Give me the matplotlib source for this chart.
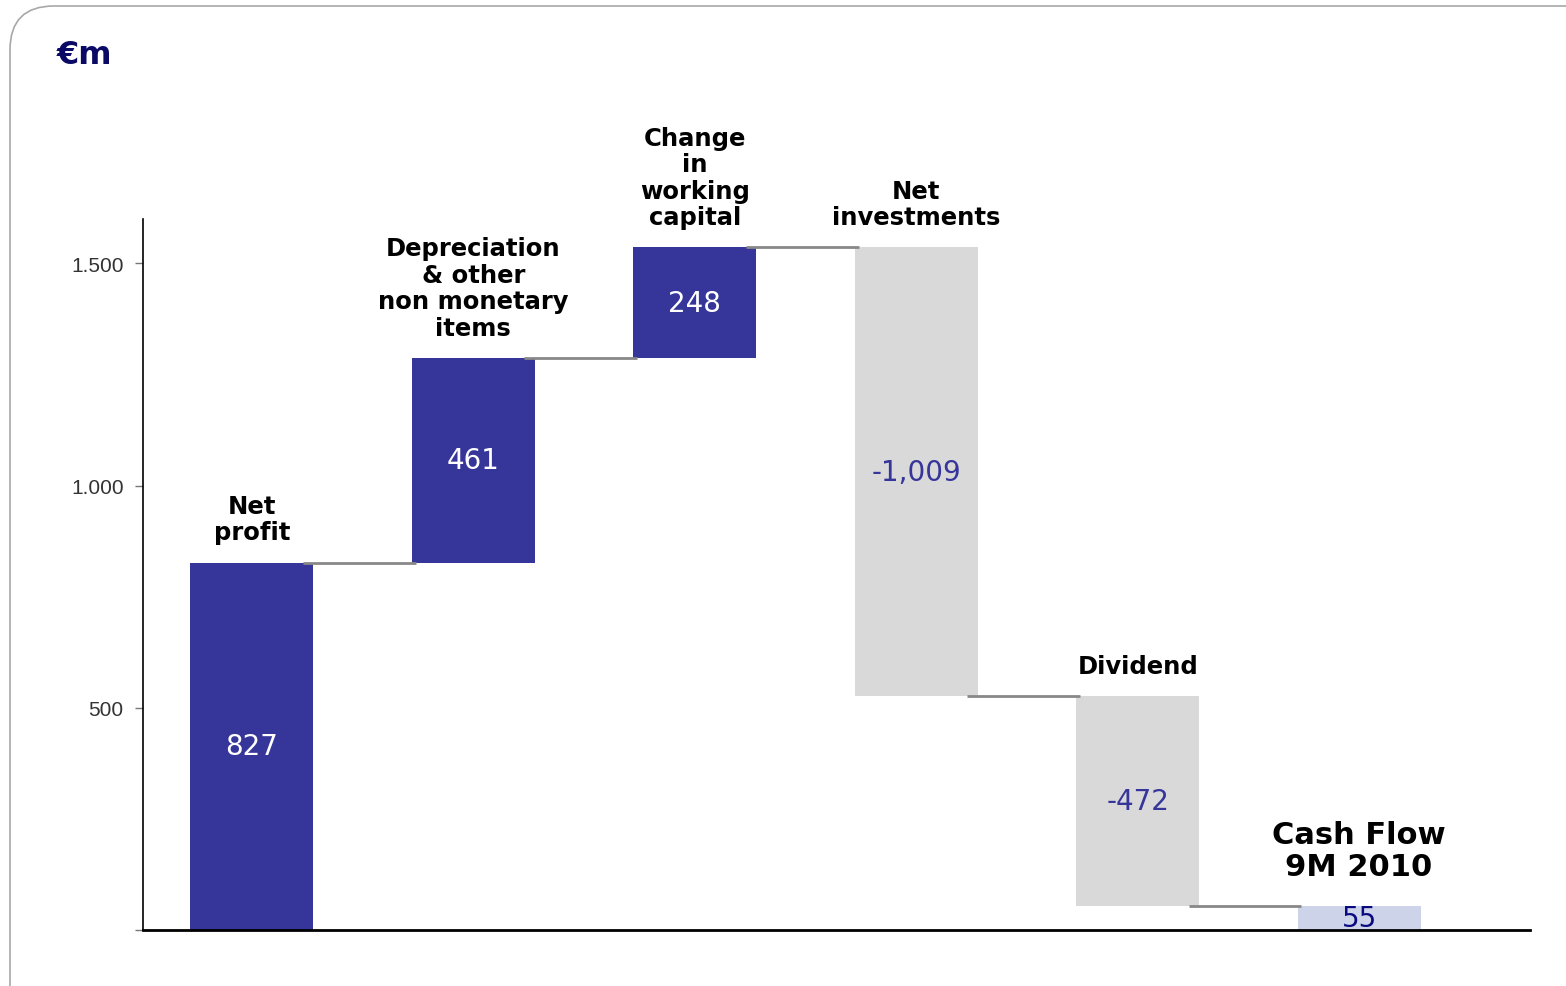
import numpy as np
import matplotlib
matplotlib.use("Agg")
import matplotlib.pyplot as plt
from matplotlib.patches import FancyBboxPatch

# waterfall data (EUR m)
categories = ["Net\nprofit", "Depreciation\n& other\nnon monetary\nitems",
              "Change\nin\nworking\ncapital", "Net\ninvestments", "Dividend",
              "Cash Flow\n9M 2010"]
values = [827, 461, 248, -1009, -472, 55]
value_labels = ["827", "461", "248", "-1,009", "-472", "55"]
yticks = [0, 500, 1000, 1500]
ytick_labels = ["", "500", "1.000", "1.500"]

blue = "#35359a"
grey = "#d9d9d9"
light = "#cdd4ea"

# bottoms / heights, last bar is the total
cum = np.cumsum(values[:-1])
bottoms, heights = [], []
prev = 0
for v, c in zip(values[:-1], cum):
    bottoms.append(min(prev, c))
    heights.append(abs(v))
    prev = c
bottoms.append(0)
heights.append(values[-1])
tops = [b + h for b, h in zip(bottoms, heights)]
levels = list(cum) + [values[-1]]

colors = [blue if v > 0 else grey for v in values[:-1]] + [light]
txt_colors = ["white" if v > 0 else "#35359a" for v in values[:-1]] + ["#0a0a80"]

fig = plt.figure(figsize=(15.66, 9.87), dpi=100)

# rounded frame around the slide
frame = FancyBboxPatch((10 / 1566, -0.1), 1.2, 1.1 - 7 / 987,
                       boxstyle="round,pad=0,rounding_size=0.028",
                       transform=fig.transFigure, facecolor="none",
                       edgecolor="#a8a8a8", linewidth=1.2, zorder=0,
                       mutation_aspect=1566 / 987)
fig.patches.append(frame)

ax = fig.add_axes([143 / 1566, 1 - 931 / 987, (1530 - 143) / 1566, (931 - 220) / 987])
x = np.arange(len(values))
w = 0.556
ax.bar(x, heights, bottom=bottoms, width=w, color=colors, zorder=2)

# connectors
for i in range(len(values) - 1):
    ax.plot([i + 0.23, i + 1 - 0.26], [levels[i], levels[i]], color="#888888",
            lw=2, zorder=3, solid_capstyle="butt")

# values inside the bars
for i in range(len(values)):
    ax.text(x[i], bottoms[i] + heights[i] / 2, value_labels[i], ha="center",
            va="center", color=txt_colors[i], fontsize=20, zorder=4)

# category labels above the bars
for i, cat in enumerate(categories):
    last = i == len(categories) - 1
    ax.annotate(cat, (x[i], tops[i]), xytext=(0, 18 if last else 13),
                textcoords="offset points",
                ha="center", va="bottom", fontsize=22 if last else 17.5,
                fontweight="bold", linespacing=1.1 if last else 1.13,
                color="black", annotation_clip=False)

ax.set_xlim(-0.492, 5.772)
ax.set_ylim(0, 1600)
ax.set_yticks(yticks)
ax.set_yticklabels(ytick_labels)
ax.set_xticks([])
ax.tick_params(axis="y", length=6, width=1, color="#777777", labelsize=15,
               labelcolor="#333333", pad=8)
for lbl in ax.get_yticklabels():
    lbl.set_family("Liberation Sans")
ax.spines["top"].set_visible(False)
ax.spines["right"].set_visible(False)
ax.spines["left"].set_linewidth(1.2)
ax.spines["bottom"].set_linewidth(2)
ax.spines["bottom"].set_zorder(5)

fig.text(57 / 1566, 1 - 55 / 987, "€m", fontsize=23, fontweight="bold",
         color="#0a0a66", va="center", ha="left")

fig.savefig("out.png", dpi=100)
